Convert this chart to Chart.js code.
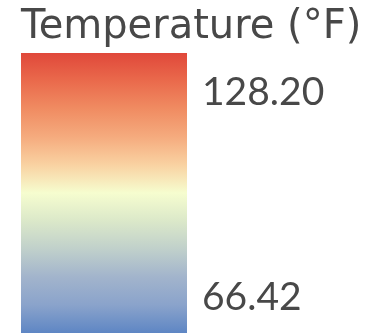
<!DOCTYPE html>
<html>
<head>
<meta charset="utf-8">
<script src="https://cdn.jsdelivr.net/npm/chart.js@4/dist/chart.umd.min.js"></script>
<style>
  html, body { margin: 0; padding: 0; background: #fff; }
  #wrap { width: 373px; height: 333px; }
</style>
</head>
<body>
<div id="wrap"><canvas id="c"></canvas></div>
<script>
// colour bar data
const titleText = 'Temperature (°F)';
const categories = ['Temperature'];
const rangeMin = 55.6;   // bottom of the colour bar
const rangeMax = 140.0;  // top of the colour bar
const tickValues = [66.42, 128.20];
// gradient stops, top (0) to bottom (1)
const stopOffsets = [0, 0.1, 0.2, 0.3, 0.4, 0.5, 0.6, 0.7, 0.8, 0.9, 1];
const stopColors = ['#e0483a', '#ea6a4c', '#f08c62', '#f5ab7e', '#f9d2a2', '#f6fdcf',
                    '#dbe8c9', '#c0d0cb', '#a2b4cc', '#8aa3cb', '#5e86c4'];

const textColor = '#484848';

function barGradient(context) {
  const area = context.chart.chartArea;
  if (!area) return stopColors[0];
  const g = context.chart.ctx.createLinearGradient(0, area.top, 0, area.bottom);
  stopOffsets.forEach((o, i) => g.addColorStop(o, stopColors[i]));
  return g;
}

new Chart(document.getElementById('c'), {
  type: 'bar',
  data: {
    labels: categories,
    datasets: [{
      data: [[rangeMin, rangeMax]],
      backgroundColor: barGradient,
      borderWidth: 0,
      barPercentage: 1,
      categoryPercentage: 1
    }]
  },
  options: {
    responsive: true,
    maintainAspectRatio: false,
    animation: false,
    layout: { padding: { left: 21, right: 0, top: 0, bottom: 0 } },
    plugins: {
      legend: { display: false },
      tooltip: { enabled: false },
      title: {
        display: true,
        text: titleText,
        align: 'start',
        color: textColor,
        font: { family: 'DejaVu Sans', size: 40, weight: 'normal' },
        padding: { top: 4, bottom: 1 }
      }
    },
    scales: {
      x: { display: false },
      y: {
        position: 'right',
        min: rangeMin,
        max: rangeMax,
        grid: { display: false },
        border: { display: false },
        afterBuildTicks: (scale) => {
          scale.ticks = tickValues.map(v => ({ value: v }));
        },
        afterFit: (scale) => {
          scale.width = 186;
          scale.paddingTop = 0;
          scale.paddingBottom = 0;
        },
        ticks: {
          padding: 7,
          color: textColor,
          font: { family: 'Lato', size: 39 },
          callback: (v) => Number(v).toFixed(2)
        }
      }
    }
  }
});
</script>
</body>
</html>
